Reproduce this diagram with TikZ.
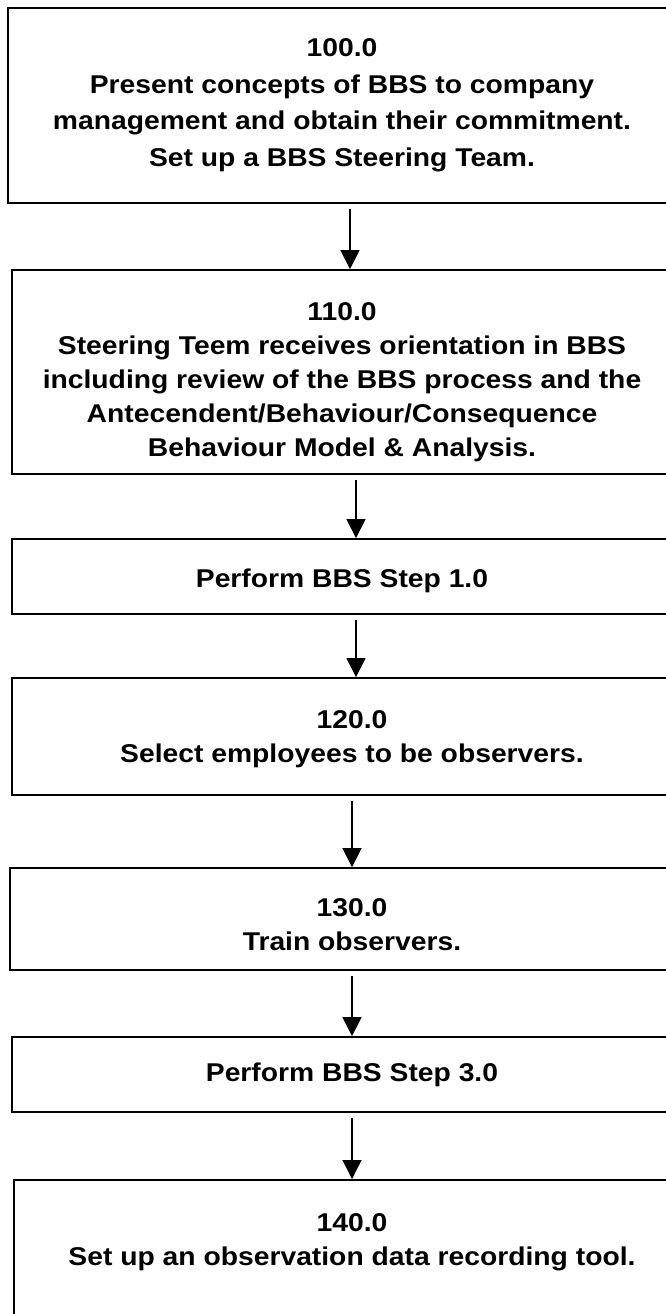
\documentclass[tikz,border=0pt]{standalone}
\usepackage{fontspec}
\setmainfont{Liberation Sans}[FakeStretch=1.1]
\usepackage{tikz}
\usetikzlibrary{arrows.meta,positioning,calc}
\newcommand{\padtop}[1]{\rule{0pt}{#1}}
\tikzset{
  >={Triangle[length=19pt,width=19pt]},
  box/.style={draw=black,line width=1.8pt,inner sep=0pt,align=center,fill=white,
    font=\fontsize{25.7}{34}\selectfont\bfseries},
  arr/.style={->,draw=black,line width=1.3pt},
}
\begin{document}
\begin{tikzpicture}[x=1pt,y=-1pt]
\useasboundingbox (0,0) rectangle (666,1314);
\node[box,minimum width=668,minimum height=195,font=\fontsize{25.7}{36.5}\selectfont\bfseries] (b1) at (342,105.5)
  {100.0\\Present concepts of BBS to company\\management and obtain their commitment.\\Set up a BBS Steering Team.};
\node[box,minimum width=660,minimum height=204] (b2) at (342,372)
  {\padtop{38pt}110.0\\Steering Teem receives orientation in BBS\\including review of the BBS process and the\\Antecendent/Behaviour/Consequence\\Behaviour Model \& Analysis.};
\node[box,minimum width=660,minimum height=75] (b3) at (342,576.5) {\padtop{28pt}Perform BBS Step 1.0};
\node[box,minimum width=680,minimum height=117] (b4) at (352,736.5)
  {\padtop{24pt}120.0\\Select employees to be observers.};
\node[box,minimum width=684,minimum height=102] (b5) at (352,919)
  {\padtop{30pt}130.0\\Train observers.};
\node[box,minimum width=680,minimum height=75] (b6) at (352,1074.5) {Perform BBS Step 3.0};
\node[box,minimum width=676,anchor=north,inner ysep=34pt,text depth=200pt] (b7) at (352,1179)
  {140.0\\Set up an observation data recording tool.};
% top arrows sit a little right of the box centres
\foreach \u/\v/\dx in {b1/b2/8,b2/b3/14,b3/b4/14,b4/b5/0,b5/b6/0,b6/b7/0}
  \draw[arr] ([shift={(\dx pt,-5pt)}]\u.south) -- ([xshift=\dx pt]\u.south |- \v.north);
\end{tikzpicture}
\end{document}
